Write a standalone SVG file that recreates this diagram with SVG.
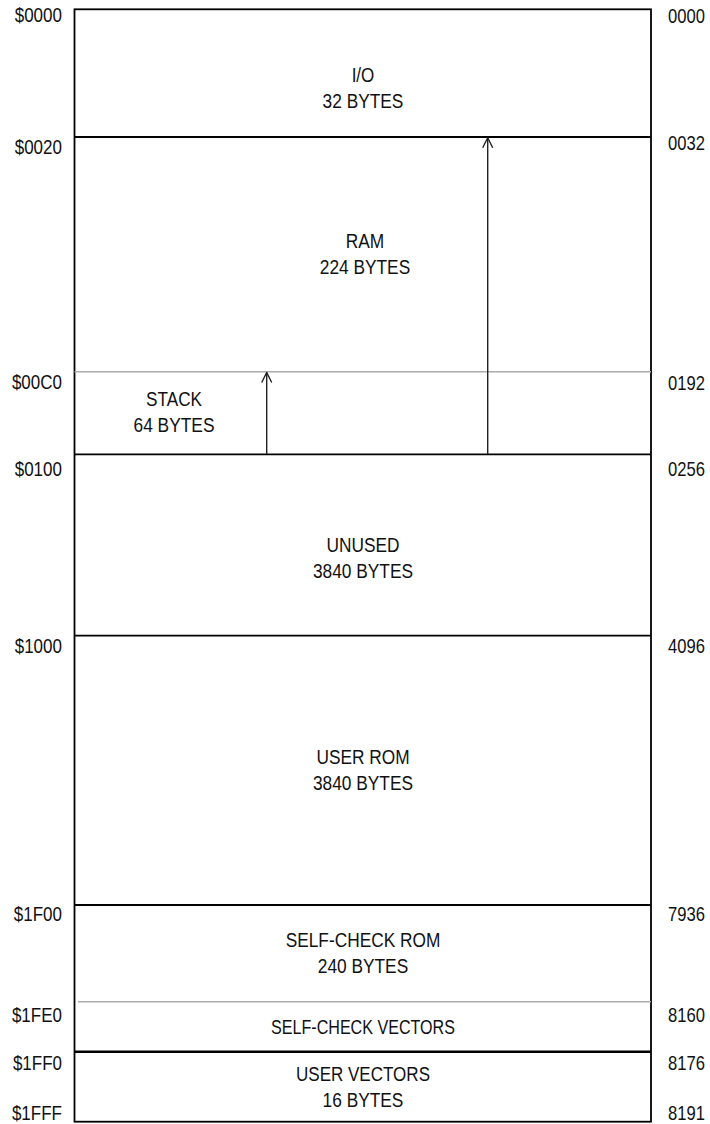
<svg xmlns="http://www.w3.org/2000/svg" width="710" height="1124" viewBox="0 0 710 1124">
<style>
text{font-family:"Liberation Sans",Arial,sans-serif;font-size:20px;fill:#111}
.c{text-anchor:middle}
.l{text-anchor:end}
.blk{stroke:#000;stroke-width:1.8;fill:none}
.gry{stroke:#aaa;stroke-width:1.5;fill:none}
.arr{stroke:#222;stroke-width:1.4;fill:none}
</style>
<defs>
<marker id="ah" viewBox="0 0 12 12" refX="11" refY="6" markerWidth="12" markerHeight="12" markerUnits="userSpaceOnUse" orient="auto">
<path d="M1,1 L11,6 L1,11" fill="none" stroke="#222" stroke-width="1.4"/>
</marker>
</defs>
<rect x="0" y="0" width="710" height="1124" fill="#fff"/>
<g id="frame">
<rect class="blk" x="74.5" y="9.3" width="576.5" height="1112.4"/>
<line class="blk" x1="74.5" y1="137" x2="651" y2="137"/>
<line class="gry" x1="74.5" y1="371.7" x2="651" y2="371.7"/>
<line class="blk" x1="74.5" y1="454.3" x2="651" y2="454.3"/>
<line class="blk" x1="74.5" y1="635.7" x2="651" y2="635.7"/>
<line class="blk" x1="74.5" y1="905" x2="651" y2="905"/>
<line class="gry" x1="78" y1="1001.7" x2="651" y2="1001.7"/>
<line class="blk" style="stroke-width:2.6" x1="74.5" y1="1051.7" x2="651" y2="1051.7"/>
</g>
<g id="io"><text class="c" x="363" y="82" textLength="22.7" lengthAdjust="spacingAndGlyphs">I/O</text><text class="c" x="363" y="108" textLength="80.8" lengthAdjust="spacingAndGlyphs">32 BYTES</text></g>
<g id="ram"><text class="c" x="365" y="248" textLength="38.4" lengthAdjust="spacingAndGlyphs">RAM</text><text class="c" x="365" y="274" textLength="90.4" lengthAdjust="spacingAndGlyphs">224 BYTES</text></g>
<g id="stack"><text class="c" x="174" y="406" textLength="56" lengthAdjust="spacingAndGlyphs">STACK</text><text class="c" x="174" y="432" textLength="81" lengthAdjust="spacingAndGlyphs">64 BYTES</text></g>
<g id="unused"><text class="c" x="363" y="552" textLength="73" lengthAdjust="spacingAndGlyphs">UNUSED</text><text class="c" x="363" y="578" textLength="100" lengthAdjust="spacingAndGlyphs">3840 BYTES</text></g>
<g id="userrom"><text class="c" x="363" y="764" textLength="93.2" lengthAdjust="spacingAndGlyphs">USER ROM</text><text class="c" x="363" y="790" textLength="100" lengthAdjust="spacingAndGlyphs">3840 BYTES</text></g>
<g id="selfcheckrom"><text class="c" x="363" y="947" textLength="154.7" lengthAdjust="spacingAndGlyphs">SELF-CHECK ROM</text><text class="c" x="363" y="973" textLength="90.4" lengthAdjust="spacingAndGlyphs">240 BYTES</text></g>
<g id="selfcheckvectors"><text class="c" x="363" y="1034" textLength="184" lengthAdjust="spacingAndGlyphs">SELF-CHECK VECTORS</text></g>
<g id="uservectors"><text class="c" x="363" y="1081" textLength="134" lengthAdjust="spacingAndGlyphs">USER VECTORS</text><text class="c" x="363" y="1107" textLength="80.8" lengthAdjust="spacingAndGlyphs">16 BYTES</text></g>
<g id="connectors">
<line class="arr" x1="266.7" y1="454.3" x2="266.7" y2="372.5" marker-end="url(#ah)"/>
<line class="arr" x1="487.7" y1="454.3" x2="487.7" y2="137.8" marker-end="url(#ah)"/>
</g>
<g id="hex-labels">
<text class="l" x="62" y="22" textLength="47.3" lengthAdjust="spacingAndGlyphs">$0000</text>
<text class="l" x="62" y="154" textLength="47.3" lengthAdjust="spacingAndGlyphs">$0020</text>
<text class="l" x="62" y="389" textLength="50.1" lengthAdjust="spacingAndGlyphs">$00C0</text>
<text class="l" x="62" y="476" textLength="47.3" lengthAdjust="spacingAndGlyphs">$0100</text>
<text class="l" x="62" y="653" textLength="47.3" lengthAdjust="spacingAndGlyphs">$1000</text>
<text class="l" x="62" y="921" textLength="48.2" lengthAdjust="spacingAndGlyphs">$1F00</text>
<text class="l" x="62" y="1022" textLength="50.1" lengthAdjust="spacingAndGlyphs">$1FE0</text>
<text class="l" x="62" y="1070" textLength="49.1" lengthAdjust="spacingAndGlyphs">$1FF0</text>
<text class="l" x="62" y="1120" textLength="50.1" lengthAdjust="spacingAndGlyphs">$1FFF</text>
</g>
<g id="dec-labels">
<text transform="translate(668,23) scale(0.83,1)">0000</text>
<text transform="translate(668,150) scale(0.83,1)">0032</text>
<text transform="translate(668,390) scale(0.83,1)">0192</text>
<text transform="translate(668,476) scale(0.83,1)">0256</text>
<text transform="translate(668,653) scale(0.83,1)">4096</text>
<text transform="translate(668,921) scale(0.83,1)">7936</text>
<text transform="translate(668,1022) scale(0.83,1)">8160</text>
<text transform="translate(668,1070) scale(0.83,1)">8176</text>
<text transform="translate(668,1120) scale(0.83,1)">8191</text>
</g>
</svg>
